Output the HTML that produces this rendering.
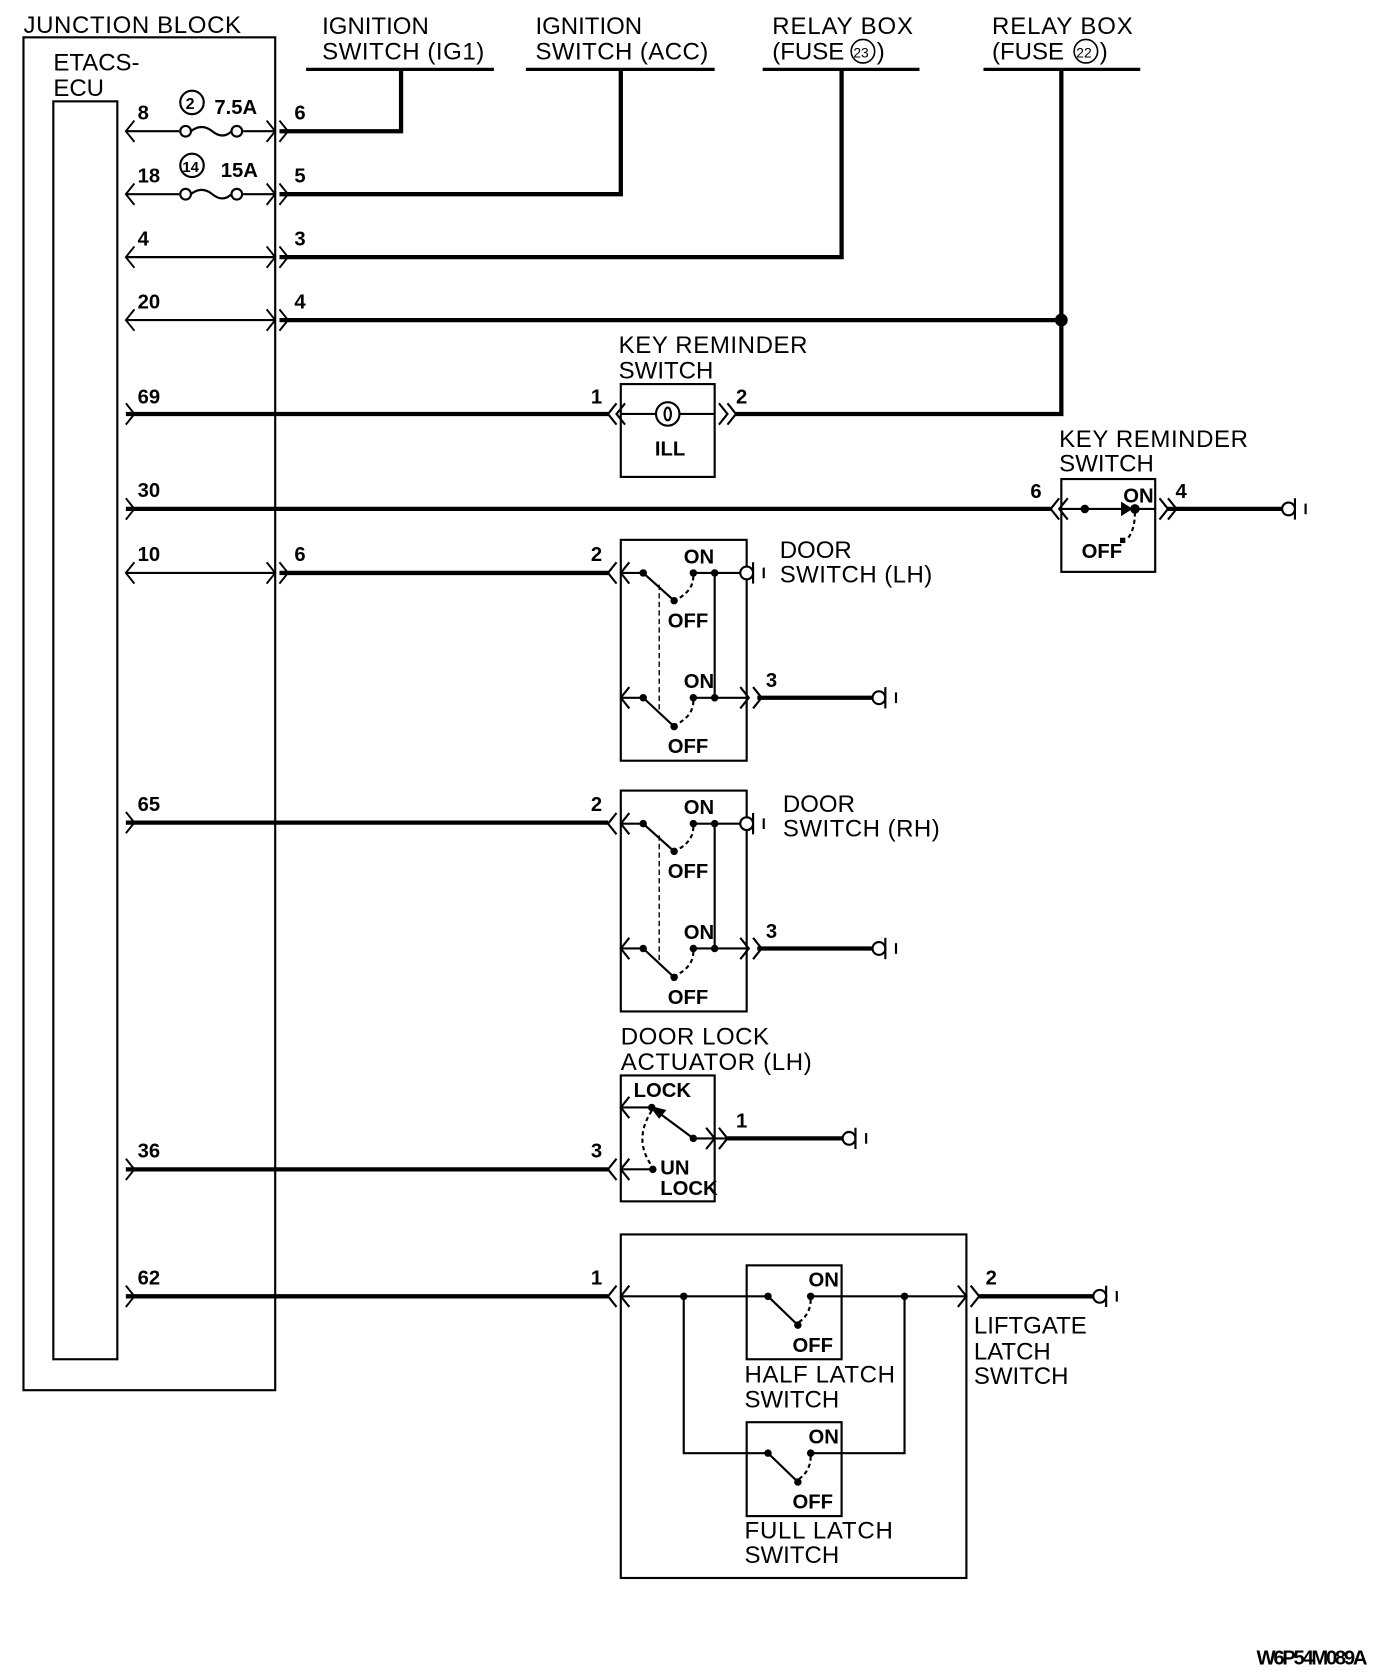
<!DOCTYPE html>
<html><head><meta charset="utf-8"><style>
html,body{margin:0;padding:0;background:#fff}
svg{display:block}
text{font-family:"Liberation Sans",sans-serif;fill:#000}
.l{font-size:22.5px}
.b{font-size:19px;font-weight:bold}
</style></head><body>
<svg width="1392" height="1674" viewBox="0 0 1305 1569" preserveAspectRatio="none" xmlns="http://www.w3.org/2000/svg">
<g fill="none" stroke="#000" stroke-width="2">
<rect x="22" y="35" width="236" height="1268"/>
<rect x="50" y="95" width="60" height="1179"/>
<line x1="287" y1="65" x2="463" y2="65" stroke-width="3"/>
<line x1="493" y1="65" x2="670" y2="65" stroke-width="3"/>
<line x1="715" y1="65" x2="862" y2="65" stroke-width="3"/>
<line x1="922" y1="65" x2="1069" y2="65" stroke-width="3"/>
<g stroke-width="4">
<polyline points="376,65 376,123 262,123"/>
<polyline points="582,65 582,182 262,182"/>
<polyline points="789,65 789,241 262,241"/>
<polyline points="995,65 995,388 690,388"/>
<line x1="262" y1="300" x2="995" y2="300"/>
<line x1="118" y1="388" x2="570" y2="388"/>
<line x1="118" y1="477" x2="985" y2="477"/>
<line x1="1095" y1="477" x2="1202" y2="477"/>
<line x1="262" y1="537" x2="570" y2="537"/>
<line x1="118" y1="771" x2="570" y2="771"/>
<line x1="118" y1="1096" x2="570" y2="1096"/>
<line x1="118" y1="1215" x2="570" y2="1215"/>
<line x1="710" y1="654" x2="818" y2="654"/>
<line x1="710" y1="889" x2="818" y2="889"/>
<line x1="682" y1="1067" x2="790" y2="1067"/>
<line x1="918" y1="1215" x2="1025" y2="1215"/>
</g>
<line x1="118" y1="123" x2="168" y2="123"/><line x1="228" y1="123" x2="258" y2="123"/>
<line x1="118" y1="182" x2="168" y2="182"/><line x1="228" y1="182" x2="258" y2="182"/>
<line x1="118" y1="241" x2="258" y2="241"/>
<line x1="118" y1="300" x2="258" y2="300"/>
<line x1="118" y1="537" x2="258" y2="537"/>
<circle cx="174" cy="123" r="5"/><circle cx="222" cy="123" r="5"/>
<path d="M179,123 q10,-8 20,0 t18,0"/>
<circle cx="174" cy="182" r="5"/><circle cx="222" cy="182" r="5"/>
<path d="M179,182 q10,-8 20,0 t18,0"/>
<circle cx="180" cy="96" r="11"/>
<circle cx="180" cy="155" r="11"/>
<g stroke-width="1.8">
<polyline points="126,113 118,123 126,133"/><polyline points="250,113 258,123 250,133"/><polyline points="262,113 270,123 262,133"/>
<polyline points="126,172 118,182 126,192"/><polyline points="250,172 258,182 250,192"/><polyline points="262,172 270,182 262,192"/>
<polyline points="126,231 118,241 126,251"/><polyline points="250,231 258,241 250,251"/><polyline points="262,231 270,241 262,251"/>
<polyline points="126,290 118,300 126,310"/><polyline points="250,290 258,300 250,310"/><polyline points="262,290 270,300 262,310"/>
<polyline points="126,527 118,537 126,547"/><polyline points="250,527 258,537 250,547"/><polyline points="262,527 270,537 262,547"/>
<polyline points="118,378 126,388 118,398"/>
<polyline points="118,467 126,477 118,487"/>
<polyline points="118,761 126,771 118,781"/>
<polyline points="118,1086 126,1096 118,1106"/>
<polyline points="118,1205 126,1215 118,1225"/>
</g>
<circle cx="995" cy="300" r="5" fill="#000"/>
<rect x="582" y="360" width="88" height="87"/>
<line x1="582" y1="388" x2="670" y2="388"/>
<circle cx="626" cy="388" r="11" fill="#fff"/>
<ellipse cx="626" cy="388" rx="3" ry="6"/>
<polyline points="578,378 570,388 578,398"/><polyline points="586,378 578,388 586,398"/>
<polyline points="674,378 682,388 674,398"/><polyline points="682,378 690,388 682,398"/>
<rect x="995" y="449" width="88" height="87"/>
<line x1="995" y1="477" x2="1083" y2="477"/>
<polyline points="993,467 985,477 993,487"/><polyline points="1001,467 993,477 1001,487"/>
<polyline points="1087,467 1095,477 1087,487"/><polyline points="1095,467 1103,477 1095,487"/>
<circle cx="1017" cy="477" r="3" fill="#000"/>
<circle cx="1064" cy="477" r="3.5" fill="#000"/>
<path d="M1052,472 L1060,477 L1052,482 Z" fill="#000"/>
<path d="M1064,480 q0,18 -8,26" stroke-dasharray="4,3"/>
<rect x="1050" y="504" width="5" height="5" fill="#000" stroke="none"/>
<g>
<circle cx="1208" cy="477" r="6"/><line x1="1214" y1="467" x2="1214" y2="487"/><line x1="1224" y1="472" x2="1224" y2="482"/>
<circle cx="824" cy="654" r="6"/><line x1="830" y1="644" x2="830" y2="664"/><line x1="840" y1="649" x2="840" y2="659"/>
<circle cx="824" cy="889" r="6"/><line x1="830" y1="879" x2="830" y2="899"/><line x1="840" y1="884" x2="840" y2="894"/>
<circle cx="796" cy="1067" r="6"/><line x1="802" y1="1057" x2="802" y2="1077"/><line x1="812" y1="1062" x2="812" y2="1072"/>
<circle cx="1031" cy="1215" r="6"/><line x1="1037" y1="1205" x2="1037" y2="1225"/><line x1="1047" y1="1210" x2="1047" y2="1220"/>
</g>
<g>
<rect x="582" y="506" width="118" height="207"/>
<line x1="582" y1="537" x2="603" y2="537"/>
<line x1="603" y1="537" x2="632" y2="563"/>
<line x1="650" y1="537" x2="694" y2="537"/>
<circle cx="700" cy="537" r="6" fill="#fff"/>
<line x1="706" y1="527" x2="706" y2="547"/><line x1="716" y1="532" x2="716" y2="542"/>
<line x1="670" y1="537" x2="670" y2="654"/>
<line x1="582" y1="654" x2="603" y2="654"/>
<line x1="603" y1="654" x2="632" y2="681"/>
<line x1="650" y1="654" x2="700" y2="654"/>
<line x1="618" y1="548" x2="618" y2="665" stroke-dasharray="5,3" stroke-width="1.3"/>
<path d="M650,540 q0,14 -16,22" stroke-dasharray="4,3"/>
<path d="M650,657 q0,14 -16,22" stroke-dasharray="4,3"/>
<g fill="#000" stroke="none">
<circle cx="603" cy="537" r="3.5"/><circle cx="632" cy="563" r="3.5"/><circle cx="650" cy="537" r="3.5"/><circle cx="670" cy="537" r="3.5"/>
<circle cx="603" cy="654" r="3.5"/><circle cx="632" cy="681" r="3.5"/><circle cx="650" cy="654" r="3.5"/><circle cx="670" cy="654" r="3.5"/>
</g>
<polyline points="578,527 570,537 578,547"/><polyline points="590,527 582,537 590,547"/>
<polyline points="590,644 582,654 590,664"/>
<polyline points="694,644 702,654 694,664"/><polyline points="706,644 714,654 706,664"/>
</g>
<g transform="translate(0,235)">
<rect x="582" y="506" width="118" height="207"/>
<line x1="582" y1="537" x2="603" y2="537"/>
<line x1="603" y1="537" x2="632" y2="563"/>
<line x1="650" y1="537" x2="694" y2="537"/>
<circle cx="700" cy="537" r="6" fill="#fff"/>
<line x1="706" y1="527" x2="706" y2="547"/><line x1="716" y1="532" x2="716" y2="542"/>
<line x1="670" y1="537" x2="670" y2="654"/>
<line x1="582" y1="654" x2="603" y2="654"/>
<line x1="603" y1="654" x2="632" y2="681"/>
<line x1="650" y1="654" x2="700" y2="654"/>
<line x1="618" y1="548" x2="618" y2="665" stroke-dasharray="5,3" stroke-width="1.3"/>
<path d="M650,540 q0,14 -16,22" stroke-dasharray="4,3"/>
<path d="M650,657 q0,14 -16,22" stroke-dasharray="4,3"/>
<g fill="#000" stroke="none">
<circle cx="603" cy="537" r="3.5"/><circle cx="632" cy="563" r="3.5"/><circle cx="650" cy="537" r="3.5"/><circle cx="670" cy="537" r="3.5"/>
<circle cx="603" cy="654" r="3.5"/><circle cx="632" cy="681" r="3.5"/><circle cx="650" cy="654" r="3.5"/><circle cx="670" cy="654" r="3.5"/>
</g>
<polyline points="578,527 570,537 578,547"/><polyline points="590,527 582,537 590,547"/>
<polyline points="590,644 582,654 590,664"/>
<polyline points="694,644 702,654 694,664"/><polyline points="706,644 714,654 706,664"/>
</g>
<!-- actuator -->
<rect x="582" y="1008" width="88" height="118"/>
<line x1="582" y1="1096" x2="612" y2="1096"/>
<polyline points="578,1086 570,1096 578,1106"/><polyline points="590,1086 582,1096 590,1106"/>
<line x1="582" y1="1038" x2="611" y2="1038"/><polyline points="590,1028 582,1038 590,1048"/>
<line x1="611" y1="1038" x2="650" y2="1067"/>
<path d="M611,1038 L623,1041 L618,1047 Z" fill="#000"/>
<line x1="650" y1="1067" x2="682" y2="1067"/>
<polyline points="662,1057 670,1067 662,1077"/><polyline points="674,1057 682,1067 674,1077"/>
<path d="M611,1041 q-18,28 1,53" stroke-dasharray="4,3"/>
<g fill="#000" stroke="none"><circle cx="611" cy="1038" r="3.5"/><circle cx="650" cy="1067" r="3.5"/><circle cx="612" cy="1096" r="3.5"/></g>
<!-- liftgate -->
<rect x="582" y="1157" width="324" height="322"/>
<line x1="582" y1="1215" x2="906" y2="1215"/>
<polyline points="578,1205 570,1215 578,1225"/><polyline points="590,1205 582,1215 590,1225"/>
<polyline points="898,1205 906,1215 898,1225"/><polyline points="910,1205 918,1215 910,1225"/>
<polyline points="641,1215 641,1362 720,1362"/>
<polyline points="848,1215 848,1362 760,1362"/>
<rect x="700" y="1186" width="89" height="88" fill="#fff"/>
<line x1="700" y1="1215" x2="720" y2="1215"/><line x1="760" y1="1215" x2="789" y2="1215"/>
<line x1="720" y1="1215" x2="748" y2="1242"/>
<path d="M760,1218 q0,14 -12,22" stroke-dasharray="4,3"/>
<rect x="700" y="1333" width="89" height="88" fill="#fff"/>
<line x1="700" y1="1362" x2="720" y2="1362"/><line x1="760" y1="1362" x2="789" y2="1362"/>
<line x1="720" y1="1362" x2="748" y2="1389"/>
<path d="M760,1365 q0,14 -12,22" stroke-dasharray="4,3"/>
<g fill="#000" stroke="none">
<circle cx="641" cy="1215" r="3.5"/><circle cx="848" cy="1215" r="3.5"/>
<circle cx="720" cy="1215" r="3.5"/><circle cx="760" cy="1215" r="3.5"/><circle cx="748" cy="1242" r="3.5"/>
<circle cx="720" cy="1362" r="3.5"/><circle cx="760" cy="1362" r="3.5"/><circle cx="748" cy="1389" r="3.5"/>
</g>
</g>
<g>
<text x="22" y="31" class="l" textLength="204">JUNCTION BLOCK</text>
<text x="50" y="66" class="l">ETACS-</text><text x="50" y="90" class="l">ECU</text>
<text x="302" y="32" class="l">IGNITION</text><text x="302" y="56" class="l" textLength="152">SWITCH (IG1)</text>
<text x="502" y="32" class="l">IGNITION</text><text x="502" y="56" class="l" textLength="162">SWITCH (ACC)</text>
<text x="724" y="32" class="l" textLength="132">RELAY BOX</text><text x="724" y="56" class="l">(FUSE</text>
<circle cx="809" cy="48" r="11" fill="none" stroke="#000" stroke-width="1.5"/><text x="800" y="54" style="font-size:13px">23</text><text x="822" y="56" class="l">)</text>
<text x="930" y="32" class="l" textLength="132">RELAY BOX</text><text x="930" y="56" class="l">(FUSE</text>
<circle cx="1018" cy="48" r="11" fill="none" stroke="#000" stroke-width="1.5"/><text x="1009" y="54" style="font-size:13px">22</text><text x="1031" y="56" class="l">)</text>
<text x="580" y="331" class="l" textLength="177">KEY REMINDER</text><text x="580" y="355" class="l">SWITCH</text>
<text x="993" y="419" class="l" textLength="177">KEY REMINDER</text><text x="993" y="442" class="l">SWITCH</text>
<text x="731" y="523" class="l">DOOR</text><text x="731" y="546" class="l" textLength="143">SWITCH (LH)</text>
<text x="734" y="761" class="l">DOOR</text><text x="734" y="784" class="l" textLength="147">SWITCH (RH)</text>
<text x="582" y="979" class="l" textLength="139">DOOR LOCK</text><text x="582" y="1003" class="l" textLength="179">ACTUATOR (LH)</text>
<text x="913" y="1250" class="l">LIFTGATE</text><text x="913" y="1274" class="l">LATCH</text><text x="913" y="1297" class="l">SWITCH</text>
<text x="698" y="1296" class="l" textLength="141">HALF LATCH</text><text x="698" y="1319" class="l">SWITCH</text>
<text x="698" y="1442" class="l" textLength="139">FULL LATCH</text><text x="698" y="1465" class="l">SWITCH</text>
</g>
<g>
<text x="129" y="112" class="b">8</text><text x="276" y="112" class="b">6</text>
<text x="174" y="102" style="font-size:15px;font-weight:bold">2</text><text x="201" y="107" class="b">7.5A</text>
<text x="129" y="171" class="b">18</text><text x="276" y="171" class="b">5</text>
<text x="171" y="161" style="font-size:14px;font-weight:bold">14</text><text x="207" y="166" class="b">15A</text>
<text x="129" y="230" class="b">4</text><text x="276" y="230" class="b">3</text>
<text x="129" y="289" class="b">20</text><text x="276" y="289" class="b">4</text>
<text x="129" y="378" class="b">69</text><text x="554" y="378" class="b">1</text><text x="690" y="378" class="b">2</text>
<text x="614" y="427" class="b">ILL</text>
<text x="129" y="466" class="b">30</text><text x="966" y="467" class="b">6</text><text x="1102" y="467" class="b">4</text>
<text x="1053" y="471" class="b">ON</text><text x="1014" y="523" class="b">OFF</text>
<text x="129" y="526" class="b">10</text><text x="276" y="526" class="b">6</text><text x="554" y="526" class="b">2</text>
<text x="641" y="528" class="b">ON</text><text x="626" y="588" class="b">OFF</text>
<text x="641" y="645" class="b">ON</text><text x="626" y="706" class="b">OFF</text><text x="718" y="644" class="b">3</text>
<text x="129" y="760" class="b">65</text><text x="554" y="760" class="b">2</text>
<text x="641" y="763" class="b">ON</text><text x="626" y="823" class="b">OFF</text>
<text x="641" y="880" class="b">ON</text><text x="626" y="941" class="b">OFF</text><text x="718" y="879" class="b">3</text>
<text x="594" y="1028" class="b">LOCK</text><text x="690" y="1057" class="b">1</text>
<text x="619" y="1101" class="b">UN</text><text x="619" y="1120" class="b">LOCK</text>
<text x="129" y="1085" class="b">36</text><text x="554" y="1085" class="b">3</text>
<text x="129" y="1204" class="b">62</text><text x="554" y="1204" class="b">1</text><text x="924" y="1204" class="b">2</text>
<text x="758" y="1206" class="b">ON</text><text x="743" y="1267" class="b">OFF</text>
<text x="758" y="1353" class="b">ON</text><text x="743" y="1414" class="b">OFF</text>
<text x="1178" y="1560" class="b" textLength="104">W6P54M089A</text>
</g>
</svg>
</body></html>
